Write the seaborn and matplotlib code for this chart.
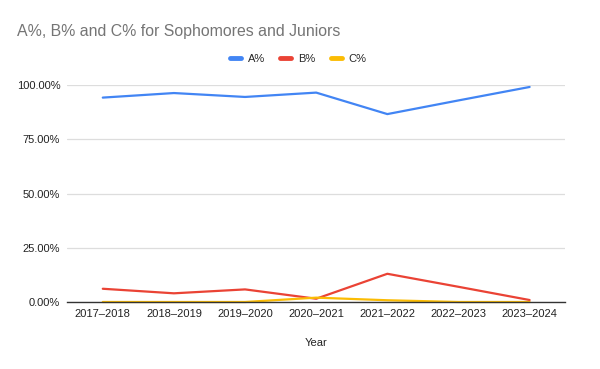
import matplotlib
matplotlib.use("Agg")
import matplotlib.pyplot as plt
import seaborn as sns
import pandas as pd
from matplotlib.ticker import PercentFormatter
from matplotlib.lines import Line2D

years = ["2017–2018", "2018–2019", "2019–2020", "2020–2021", "2021–2022", "2022–2023", "2023–2024"]
a_pct = [94.2, 96.3, 94.5, 96.5, 86.6, 92.9, 99.1]
b_pct = [6.1, 4.0, 5.8, 1.5, 13.0, 7.0, 0.9]
c_pct = [0.0, 0.0, 0.0, 2.0, 0.8, 0.0, 0.0]

df = pd.DataFrame({"Year": years * 3,
                   "value": [v / 100 for v in a_pct + b_pct + c_pct],
                   "series": ["A%"] * 7 + ["B%"] * 7 + ["C%"] * 7})

sns.set_theme(style="white")
plt.rcParams['font.family'] = ['Liberation Sans', 'DejaVu Sans']

fig = plt.figure(figsize=(6, 3.69), dpi=100)
ax = fig.add_axes([0.112, 0.1816, 0.830, 0.588])
palette = {"A%": "#4285F4", "B%": "#EA4335", "C%": "#FBBC04"}
sns.lineplot(data=df, x="Year", y="value", hue="series", palette=palette,
             linewidth=1.6, ax=ax, sort=False, legend=False, clip_on=False)

ax.set_ylim(0, 1.0)
ax.set_xlim(-0.5, 6.5)
ax.set_yticks([0, 0.25, 0.5, 0.75, 1.0])
ax.yaxis.set_major_formatter(PercentFormatter(1.0, decimals=2))
ax.grid(axis="y", color="#dddddd", linewidth=0.9)
ax.set_axisbelow(True)
for s in ["top", "right", "left"]:
    ax.spines[s].set_visible(False)
ax.spines["bottom"].set_color("#333333")
ax.spines["bottom"].set_linewidth(1.0)
ax.tick_params(axis="both", length=0, labelsize=8, colors="#222222", pad=5)
ax.set_ylabel("")
ax.set_xlabel("Year", fontsize=8, color="#222222", labelpad=14)

fig.text(0.028, 0.915, "A%, B% and C% for Sophomores and Juniors",
         fontsize=11.4, color="#757575", ha="left", va="center")

handles = [Line2D([], [], color=palette[k], linewidth=3.5) for k in ["A%", "B%", "C%"]]
fig.legend(handles, ["A%", "B%", "C%"], loc="center", bbox_to_anchor=(0.497, 0.84),
           ncol=3, frameon=False, fontsize=8, handlelength=1.0, columnspacing=1.4,
           handletextpad=0.6)

fig.savefig("out.png", dpi=100)
